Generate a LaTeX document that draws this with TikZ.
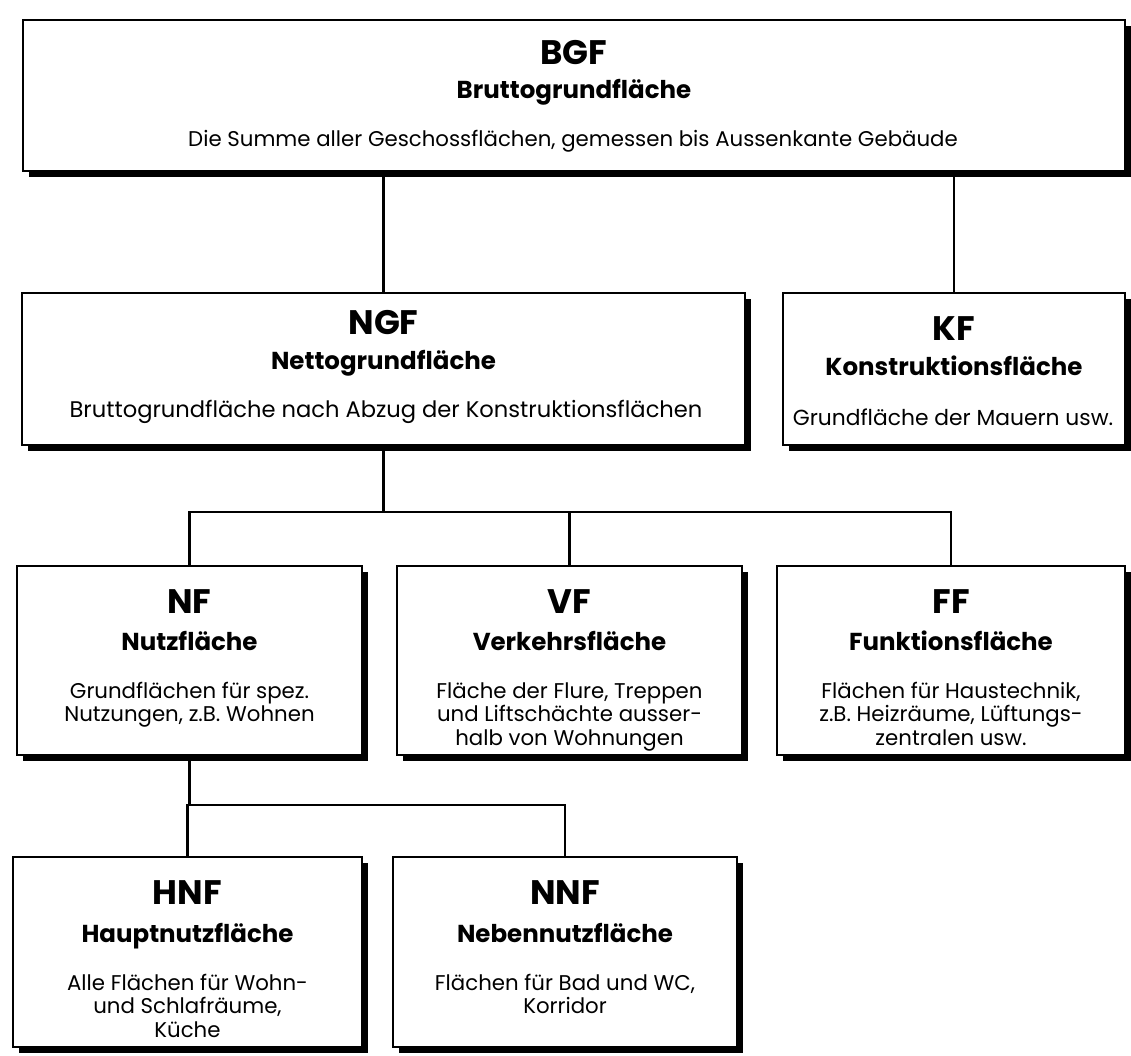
\documentclass[tikz,border=0pt]{standalone}
\usepackage{fontspec}
\setmainfont{Poppins}
\usetikzlibrary{shadows}
\begin{document}
\begin{tikzpicture}[x=1pt,y=-1pt,
  boxnode/.style={draw, line width=2.6pt, fill=white, inner sep=0pt, outer sep=0pt,
    drop shadow={shadow xshift=6pt, shadow yshift=-6pt, fill=black, opacity=1}},
  conn/.style={line width=2.6pt, line cap=rect},
  ti/.style={anchor=base, inner sep=0pt, font=\fontsize{34}{34}\selectfont\bfseries},
  st/.style={anchor=base, inner sep=0pt, font=\fontsize{24.5}{24.5}\selectfont\bfseries},
  ds/.style={anchor=base, inner sep=0pt, font=\fontsize{21.3}{21.3}\selectfont},
  dl/.style={anchor=base, inner sep=0pt, font=\fontsize{22.6}{22.6}\selectfont},
  dk/.style={anchor=base, inner sep=0pt, font=\fontsize{21.8}{21.8}\selectfont}]
\useasboundingbox (0,0) rectangle (1131,1055);

% boxes
\node[boxnode, minimum width=1102pt, minimum height=151pt] (bgf) at (574,95.5) {};
\node[boxnode, minimum width=723pt, minimum height=152pt] (ngf) at (383.5,369) {};
\node[boxnode, minimum width=342pt, minimum height=152pt] (kf) at (954,369) {};
\node[boxnode, minimum width=345pt, minimum height=189pt] (nf) at (189.5,660.5) {};
\node[boxnode, minimum width=345pt, minimum height=189pt] (vf) at (569.5,660.5) {};
\node[boxnode, minimum width=348pt, minimum height=189pt] (ff) at (951,660.5) {};
\node[boxnode, minimum width=349pt, minimum height=190pt] (hnf) at (187.5,952) {};
\node[boxnode, minimum width=344pt, minimum height=190pt] (nnf) at (565,952) {};

% connectors
\coordinate (h1) at (0,512);
\coordinate (h2) at (0,805);
\draw[conn] (bgf.south -| ngf.north) -- (ngf.north);
\draw[conn] (bgf.south -| kf.north) -- (kf.north);
\draw[conn] (ngf.south) -- (ngf.south |- h1);
\draw[conn] (nf.north) -- (nf.north |- h1) -- (ff.north |- h1) -- (ff.north);
\draw[conn] (vf.north) -- (vf.north |- h1);
\draw[conn] (nf.south) -- (nf.south |- h2);
\draw[conn] (hnf.north) -- (hnf.north |- h2) -- (nnf.north |- h2) -- (nnf.north);

% BGF
\node[ti] (bgf-t) at (574,64) {BGF};
\node[st] (bgf-s) at (574,98) {Bruttogrundfläche};
\node[ds] (bgf-d) at (573,146) {Die Summe aller Geschossflächen, gemessen bis Aussenkante Gebäude};
% NGF
\node[ti] (ngf-t) at (383.5,334) {NGF};
\node[st] (ngf-s) at (383.5,369) {Nettogrundfläche};
\node[dl] (ngf-d) at (386,417) {Bruttogrundfläche nach Abzug der Konstruktionsflächen};
% KF
\node[ti] (kf-t) at (954,340) {KF};
\node[st] (kf-s) at (954,375) {Konstruktionsfläche};
\node[dk] (kf-d) at (953,425) {Grundfläche der Mauern usw.};
% NF
\node[ti] (nf-t) at (189.5,613) {NF};
\node[st] (nf-s) at (189.5,650) {Nutzfläche};
\node[ds] (nf-d1) at (189.5,698) {Grundflächen für spez.};
\node[ds] (nf-d2) at (189.5,721.5) {Nutzungen, z.B. Wohnen};
% VF
\node[ti] (vf-t) at (569.5,613) {VF};
\node[st] (vf-s) at (569.5,650) {Verkehrsfläche};
\node[ds] (vf-d1) at (569.5,698) {Fläche der Flure, Treppen};
\node[ds] (vf-d2) at (569.5,721.5) {und Liftschächte ausser-};
\node[ds] (vf-d3) at (569.5,745) {halb von Wohnungen};
% FF
\node[ti] (ff-t) at (951,613) {FF};
\node[st] (ff-s) at (951,650) {Funktionsfläche};
\node[ds] (ff-d1) at (951,698) {Flächen für Haustechnik,};
\node[ds] (ff-d2) at (951,721.5) {z.B. Heizräume, Lüftungs-};
\node[ds] (ff-d3) at (951,745) {zentralen usw.};
% HNF
\node[ti] (hnf-t) at (187.5,904) {HNF};
\node[st] (hnf-s) at (187.5,942) {Hauptnutzfläche};
\node[ds] (hnf-d1) at (187.5,990) {Alle Flächen für Wohn-};
\node[ds] (hnf-d2) at (187.5,1013.5) {und Schlafräume,};
\node[ds] (hnf-d3) at (187.5,1037) {Küche};
% NNF
\node[ti] (nnf-t) at (565,904) {NNF};
\node[st] (nnf-s) at (565,942) {Nebennutzfläche};
\node[ds] (nnf-d1) at (565,990) {Flächen für Bad und WC,};
\node[ds] (nnf-d2) at (565,1013.5) {Korridor};
\end{tikzpicture}
\end{document}
